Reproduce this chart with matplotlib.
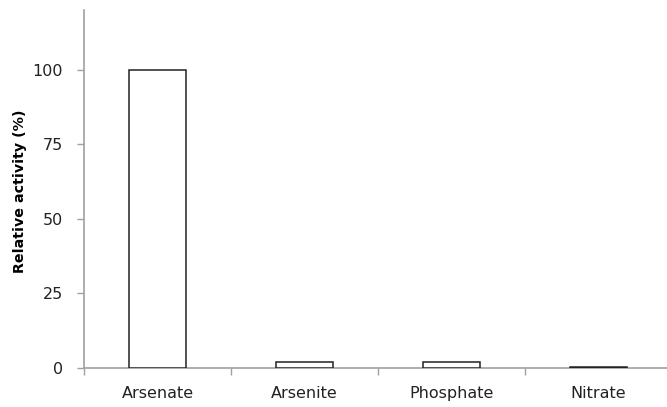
import matplotlib
matplotlib.use("Agg")
import matplotlib.pyplot as plt
import numpy as np

categories = ["Arsenate", "Arsenite", "Phosphate", "Nitrate"]
values = [100, 2, 2, 0.5]
yticks = [0, 25, 50, 75, 100]

fig = plt.figure(figsize=(6.67, 4.07), dpi=100)
ax = fig.add_axes([84/667, (407-368)/407, 588/667, 358/407])

x = np.arange(len(categories))
ax.bar(x, values, width=0.39, color="white", edgecolor="#222222", linewidth=1.1, zorder=3)

ax.set_xlim(-0.5, len(categories) - 0.5)
ax.set_ylim(0, 120)

ax.set_yticks(yticks)
ax.set_yticklabels([str(v) for v in yticks], fontsize=11.5, color="#222222")
ax.set_xticks(np.arange(len(categories) + 1) - 0.5)
ax.set_xticklabels([])
ax.set_xticks(x, minor=True)
ax.set_xticklabels(categories, minor=True, fontsize=11.5, color="#222222")
ax.tick_params(axis="x", which="major", length=5, width=1, color="#a0a0a0", direction="out")
ax.tick_params(axis="x", which="minor", length=0, pad=13)
ax.tick_params(axis="y", length=5, width=1, color="#a0a0a0", direction="out", pad=10)

for s in ["top", "right"]:
    ax.spines[s].set_visible(False)
for s in ["left", "bottom"]:
    ax.spines[s].set_color("#a0a0a0")
    ax.spines[s].set_linewidth(1.2)

fig.text(20/667, (407-191)/407, "Relative activity (%)", rotation=90,
         fontsize=10.3, fontweight="bold", ha="center", va="center")

fig.savefig("out.png", dpi=100)
